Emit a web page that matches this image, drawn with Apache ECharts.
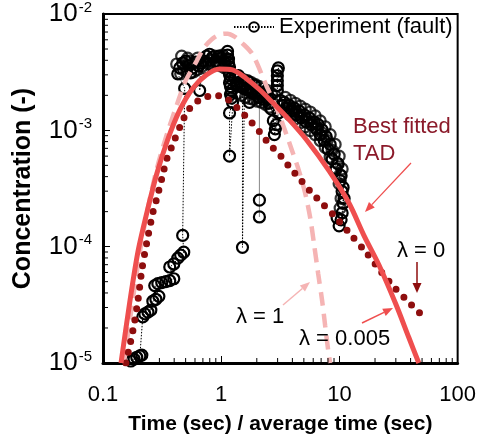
<!DOCTYPE html>
<html><head><meta charset="utf-8">
<script src="https://cdn.jsdelivr.net/npm/echarts@6/dist/echarts.min.js"></script>
<style>html,body{margin:0;padding:0;background:#fff}#c{width:479px;height:440px}</style>
</head><body><div id="c"></div>
<script>
// ---- tick values ----
const xMajorTicks = [0.1, 1, 10, 100];
const yMajorTicks = [1e-5, 1e-4, 1e-3, 1e-2];
const xMinorTicks = [0.2,0.3,0.4,0.5,0.6,0.7,0.8,0.9,2,3,4,5,6,7,8,9,20,30,40,50,60,70,80,90];
const yMinorTicks = [2e-5,3e-5,4e-5,5e-5,6e-5,7e-5,8e-5,9e-5,2e-4,3e-4,4e-4,5e-4,6e-4,7e-4,8e-4,9e-4,2e-3,3e-3,4e-3,5e-3,6e-3,7e-3,8e-3,9e-3];

// ---- Experiment (fault), in time order ----
const expX = [0.172,0.183,0.193,0.205,0.213,0.217,0.226,0.240,0.254,0.264,0.280,0.297,0.274,0.291,0.314,0.340,0.367,0.397,0.367,0.397,
  0.429,0.454,0.482,0.472,0.491,0.429,0.446,0.472,0.501,0.531,0.552,0.573,0.608,0.644,0.670,0.657,0.710,0.752,0.797,0.845,
  0.896,0.950,1.006,1.067,1.131,1.131,1.153,1.153,1.176,1.153,1.176,1.198,1.176,1.198,1.222,1.198,1.222,1.246,1.176,1.176,
  1.295,1.346,1.400,1.455,1.513,1.513,1.573,1.635,1.700,1.733,1.767,1.837,1.910,1.986,2.064,2.188,2.275,2.364,2.458,2.555,
  2.657,2.761,2.871,2.817,2.927,3.043,2.984,2.984,2.984,2.984,2.984,3.043,3.163,3.289,3.419,3.554,3.767,3.916,4.151,4.315,
  4.574,4.755,5.040,5.240,5.554,5.774,6.120,6.363,6.614,6.876,7.148,7.430,7.725,8.030,8.349,8.679,9.022,9.378,9.750,10.14,
  10.33,10.54,10.74,10.74,10.95,10.54,10.33,9.94,9.56];
const expY = [1.04e-5,1.08e-5,1.12e-5,1.15e-5,1.17e-5,2.49e-5,2.64e-5,2.74e-5,2.85e-5,3.40e-5,3.53e-5,3.74e-5,4.63e-5,4.81e-5,4.91e-5,5.00e-5,5.10e-5,5.30e-5,6.69e-5,7.10e-5,
  7.97e-5,8.45e-5,8.96e-5,1.25e-4,2.29e-3,3.06e-3,3.44e-3,3.79e-3,3.94e-3,3.58e-3,3.12e-3,3.44e-3,3.86e-3,3.58e-3,3.79e-3,2.20e-3,3.94e-3,4.34e-3,4.51e-3,4.26e-3,
  3.94e-3,4.34e-3,4.18e-3,3.86e-3,4.78e-3,4.43e-3,4.10e-3,3.79e-3,3.51e-3,3.25e-3,3.00e-3,2.78e-3,2.57e-3,2.38e-3,2.20e-3,2.04e-3,1.89e-3,1.74e-3,1.41e-3,6.00e-4,
  2.83e-3,2.52e-3,2.95e-3,2.62e-3,2.33e-3,9.87e-5,2.52e-3,2.24e-3,2.62e-3,1.74e-3,2.33e-3,2.08e-3,2.43e-3,2.16e-3,1.92e-3,2.08e-3,1.85e-3,2.16e-3,1.92e-3,1.71e-3,
  1.52e-3,1.21e-3,1.03e-3,9.19e-4,1.12e-3,1.41e-3,2.20e-3,2.43e-3,2.67e-3,2.95e-3,3.25e-3,3.44e-3,1.81e-3,1.64e-3,1.74e-3,1.55e-3,1.64e-3,1.46e-3,1.55e-3,1.36e-3,
  1.46e-3,1.28e-3,1.36e-3,1.18e-3,1.28e-3,1.12e-3,1.18e-3,1.03e-3,1.12e-3,9.19e-4,1.01e-3,8.18e-4,8.84e-4,6.87e-4,7.57e-4,5.66e-4,6.24e-4,4.66e-4,5.14e-4,3.69e-4,
  4.07e-4,2.98e-4,3.23e-4,2.36e-4,2.60e-4,1.95e-4,1.70e-4,1.51e-4,1.77e-4];
// further overlapping readings in the dense part of the record (markers only)
const denseX = [1.321,1.427,1.543,1.667,1.802,1.947,2.104,2.275,2.458,2.657,2.871,
  1.373,1.484,1.603,1.733,1.873,2.024,2.188,2.364,2.555,
  1.346,1.455,1.573,1.700,1.837,1.986,2.145,2.319,2.505,2.707,
  3.485,3.841,4.232,4.664,5.138,5.662,6.239,6.875,7.575,8.347,9.197,9.941,10.54,
  3.485,3.841,4.232,4.664,5.138,5.662,6.239,6.875,7.575,8.347,9.197,9.941,10.33,10.14,
  3.623,3.991,4.398,4.846,5.340,5.884,6.483,7.148,7.876,8.679,9.563,10.14,
  0.4543,0.4815,0.5103,0.541,0.5844,0.6197,0.6963,0.7523,0.8131,0.8787,0.9495,1.026,1.088,
  0.4203,0.463,0.5203,0.5623,0.6318,0.7237,0.782,0.8452,0.9135,0.987,1.067];
const denseY = [2.945e-3,2.833e-3,2.725e-3,2.673e-3,2.571e-3,2.473e-3,2.379e-3,2.288e-3,2.201e-3,2.077e-3,1.960e-3,
  2.077e-3,1.998e-3,1.921e-3,1.885e-3,1.848e-3,1.778e-3,1.744e-3,1.677e-3,1.582e-3,
  2.473e-3,2.379e-3,2.288e-3,2.244e-3,2.159e-3,2.077e-3,2.037e-3,1.960e-3,1.848e-3,1.744e-3,
  1.921e-3,1.813e-3,1.710e-3,1.613e-3,1.523e-3,1.437e-3,1.329e-3,1.206e-3,1.074e-3,9.19e-4,7.57e-4,6.00e-4,4.66e-4,
  1.464e-3,1.355e-3,1.254e-3,1.16e-3,1.074e-3,9.94e-4,9.19e-4,8.18e-4,7.14e-4,5.88e-4,4.66e-4,3.48e-4,2.60e-4,2.145e-4,
  1.645e-3,1.523e-3,1.422e-3,1.329e-3,1.242e-3,1.16e-3,1.053e-3,9.46e-4,8.18e-4,6.74e-4,5.24e-4,4.15e-4,
  3.062e-3,3.31e-3,3.18e-3,3.94e-3,3.18e-3,3.31e-3,3.576e-3,3.864e-3,4.017e-3,4.341e-3,3.864e-3,4.427e-3,4.176e-3,
  3.717e-3,4.341e-3,4.176e-3,3.717e-3,4.176e-3,3.439e-3,3.717e-3,3.576e-3,3.717e-3,3.576e-3,3.439e-3];
// dip points joined by a thin solid grey line
const dipX = [2.104, 2.104, 2.104];
const dipY = [1.92e-3, 2.51e-4, 1.80e-4];

// ---- Best fitted TAD, lambda = 0.005 ----
const fitX = [0.142,0.1689,0.1972,0.2348,0.2851,0.3530,0.4456,0.5733,0.7523,0.968,1.246,1.635,2.104,2.707,3.767,5.240,8.18,12.06,16.14,21.59,30.03,38.64,46.92];
const fitY = [1.0e-5,3.40e-5,8.96e-5,1.95e-4,4.23e-4,8.34e-4,1.49e-3,2.29e-3,3.00e-3,3.374e-3,3.31e-3,2.78e-3,2.244e-3,1.74e-3,1.23e-3,8.34e-4,4.48e-4,2.36e-4,1.246e-4,6.96e-5,3.20e-5,1.656e-5,1.0e-5];

// ---- lambda = 1 ----
const l1X = [0.1503,0.1755,0.2050,0.2395,0.2851,0.3462,0.4203,0.5005,0.6197,0.7098,0.8289,0.968,1.131,1.295,1.484,1.837,2.409,3.101,3.991,4.574,5.138,5.662,6.120,6.614,7.148,7.575,8.030,8.347];
const l1Y = [1.0e-5,3.08e-5,8.96e-5,2.145e-4,4.66e-4,9.19e-4,1.645e-3,2.673e-3,3.94e-3,5.07e-3,6.04e-3,6.65e-3,6.78e-3,6.40e-3,5.70e-3,4.51e-3,2.425e-3,1.355e-3,6.61e-4,4.40e-4,2.87e-4,1.767e-4,1.026e-4,5.84e-5,3.40e-5,2.09e-5,1.287e-5,1.0e-5];

// ---- lambda = 0 ----
const l0X = [0.1563,0.1790,0.1972,0.2132,0.2348,0.2638,0.2851,0.3142,0.3462,0.3889,0.4630,0.5203,0.5958,0.6963,0.8787,1.067,1.246,1.427,1.667,2.104,2.555,3.10,3.767,4.755,5.885,7.148,9.378,12.06,16.77,21.59,27.78,36.45,48.76];
const l0Y = [1.0e-5,1.897e-5,3.40e-5,6.32e-5,1.088e-4,1.95e-4,2.60e-4,3.84e-4,5.66e-4,7.57e-4,1.16e-3,1.464e-3,1.71e-3,1.885e-3,2.0e-3,1.921e-3,1.71e-3,1.49e-3,1.278e-3,9.75e-4,7.57e-4,6.24e-4,4.85e-4,3.69e-4,2.87e-4,2.36e-4,1.77e-4,1.32e-4,8.96e-5,6.44e-5,4.72e-5,3.53e-5,2.638e-5];

const FONT = '"Liberation Sans", Arial, sans-serif';
const RED = '#EF4E4E', PINK = '#F5B4B4', DARK = '#8E0E0E', MAROON = '#8B1A2A';
const zip = (a, b) => a.map((v, i) => [v, b[i]]);

const chart = echarts.init(document.getElementById('c'), null, {renderer: 'canvas'});

function tickSeries(data, dir, len) {
  return {
    type: 'custom', coordinateSystem: 'cartesian2d', silent: true, z: 10,
    data: data,
    renderItem: function (params, api) {
      const p = api.coord([api.value(0), api.value(1)]);
      const s = dir === 'x' ? {x1: p[0], y1: p[1], x2: p[0], y2: p[1] - len}
                            : {x1: p[0], y1: p[1], x2: p[0] + len, y2: p[1]};
      return {type: 'line', shape: s, style: {stroke: '#000', lineWidth: 1}};
    }
  };
}

function arrow(x1, y1, x2, y2, color, w, hl, hw) {
  const a = Math.atan2(y2 - y1, x2 - x1);
  const bx = x2 - hl * Math.cos(a), by = y2 - hl * Math.sin(a);
  const px = -Math.sin(a) * hw / 2, py = Math.cos(a) * hw / 2;
  return [
    {type: 'line', shape: {x1: x1, y1: y1, x2: bx, y2: by}, style: {stroke: color, lineWidth: w}, z: 100},
    {type: 'polygon', shape: {points: [[x2, y2], [bx + px, by + py], [bx - px, by - py]]}, style: {fill: color}, z: 100}
  ];
}

const texts = [
  {type: 'text', left: 353, top: 113, z: 100, style: {text: 'Best fitted\nTAD', font: '22px ' + FONT, fill: MAROON, lineHeight: 27}},
  {type: 'text', left: 397, top: 240, z: 100, style: {text: 'λ = 0', font: '22px ' + FONT, fill: '#000'}},
  {type: 'text', left: 236, top: 306, z: 100, style: {text: 'λ = 1', font: '22px ' + FONT, fill: '#000'}},
  {type: 'text', left: 299, top: 328, z: 100, style: {text: 'λ = 0.005', font: '22px ' + FONT, fill: '#000'}}
];
const arrows = [].concat(
  arrow(411, 163, 365, 212, RED, 1.2, 10, 8),
  arrow(417, 262, 417, 293, DARK, 1.5, 10, 9),
  arrow(283, 305, 310, 282, PINK, 1.5, 10, 8),
  arrow(362, 323, 393, 308, RED, 1.5, 10, 8)
);

const ringStyle = {color: 'rgba(255,255,255,0)', borderColor: '#000', borderWidth: 2.2};

chart.setOption({
  animation: false,
  backgroundColor: '#fff',
  textStyle: {fontFamily: FONT},
  grid: {left: 103, right: 19, top: 7, bottom: 77, show: true, borderColor: '#000', borderWidth: 2, backgroundColor: 'transparent'},
  legend: {
    data: ['Experiment (fault)'], left: 233, top: 16, padding: 0, itemWidth: 40, itemHeight: 12, itemGap: 5,
    textStyle: {fontSize: 22, fontFamily: FONT, color: '#000'}, selectedMode: false
  },
  xAxis: {
    type: 'log', logBase: 10, min: xMajorTicks[0], max: xMajorTicks[xMajorTicks.length - 1], interval: 1,
    name: 'Time (sec) / average time (sec)', nameLocation: 'middle', nameGap: 51,
    nameTextStyle: {fontSize: 21, fontWeight: 'bold', color: '#000', fontFamily: FONT},
    axisLine: {show: true, onZero: false, lineStyle: {color: '#000', width: 3}},
    axisTick: {show: true, inside: true, length: 7, lineStyle: {color: '#000', width: 1}},
    axisLabel: {fontSize: 22, color: '#000', margin: 21, fontFamily: FONT, formatter: v => String(v)},
    splitLine: {show: false}, minorTick: {show: false}
  },
  yAxis: {
    type: 'log', logBase: 10, min: yMajorTicks[0], max: yMajorTicks[yMajorTicks.length - 1], interval: 1,
    name: 'Concentration (-)', nameLocation: 'middle', nameGap: 67, nameRotate: 90,
    nameTextStyle: {fontSize: 25, fontWeight: 'bold', color: '#000', fontFamily: FONT},
    axisLine: {show: true, onZero: false, lineStyle: {color: '#000', width: 3}},
    axisTick: {show: true, inside: true, length: 7, lineStyle: {color: '#000', width: 1}},
    axisLabel: {
      color: '#000', margin: 11, fontFamily: FONT,
      formatter: v => '{b|10}{s|' + Math.round(Math.log10(v)) + '}',
      rich: {
        b: {fontSize: 26, fontFamily: FONT, color: '#000', lineHeight: 28},
        s: {fontSize: 15, fontFamily: FONT, color: '#000', verticalAlign: 'top', lineHeight: 15, padding: [0, 0, 0, 1]}
      }
    },
    splitLine: {show: false}, minorTick: {show: false}
  },
  series: [
    {
      name: 'Experiment (fault)', type: 'line', data: zip(expX, expY), z: 2,
      symbol: 'circle', symbolSize: 11, showSymbol: true,
      itemStyle: ringStyle,
      lineStyle: {color: '#000', width: 1, type: [1.5, 1.5]}
    },
    {
      name: 'dense', type: 'scatter', data: zip(denseX, denseY), z: 2,
      symbol: 'circle', symbolSize: 11, itemStyle: ringStyle
    },
    {
      name: 'dip', type: 'line', data: zip(dipX, dipY), z: 2,
      symbol: 'circle', symbolSize: 11, itemStyle: ringStyle,
      lineStyle: {color: '#888', width: 1, type: 'solid'}
    },
    {
      name: 'lambda1', type: 'line', data: zip(l1X, l1Y), z: 3, symbol: 'none', smooth: 0.3,
      lineStyle: {color: PINK, width: 4.5, type: [14, 8]}
    },
    {
      name: 'lambda0', type: 'line', data: zip(l0X, l0Y), z: 4, symbol: 'none', smooth: 0.3,
      lineStyle: {color: DARK, width: 7, type: [0, 11], cap: 'round'}
    },
    {
      name: 'fit', type: 'line', data: zip(fitX, fitY), z: 5, symbol: 'none', smooth: 0.3,
      lineStyle: {color: RED, width: 5}
    },
    tickSeries(xMinorTicks.map(v => [v, yMajorTicks[0]]), 'x', 5),
    tickSeries(yMinorTicks.map(v => [xMajorTicks[0], v]), 'y', 5)
  ],
  graphic: texts.concat(arrows)
});
</script>
</body></html>
